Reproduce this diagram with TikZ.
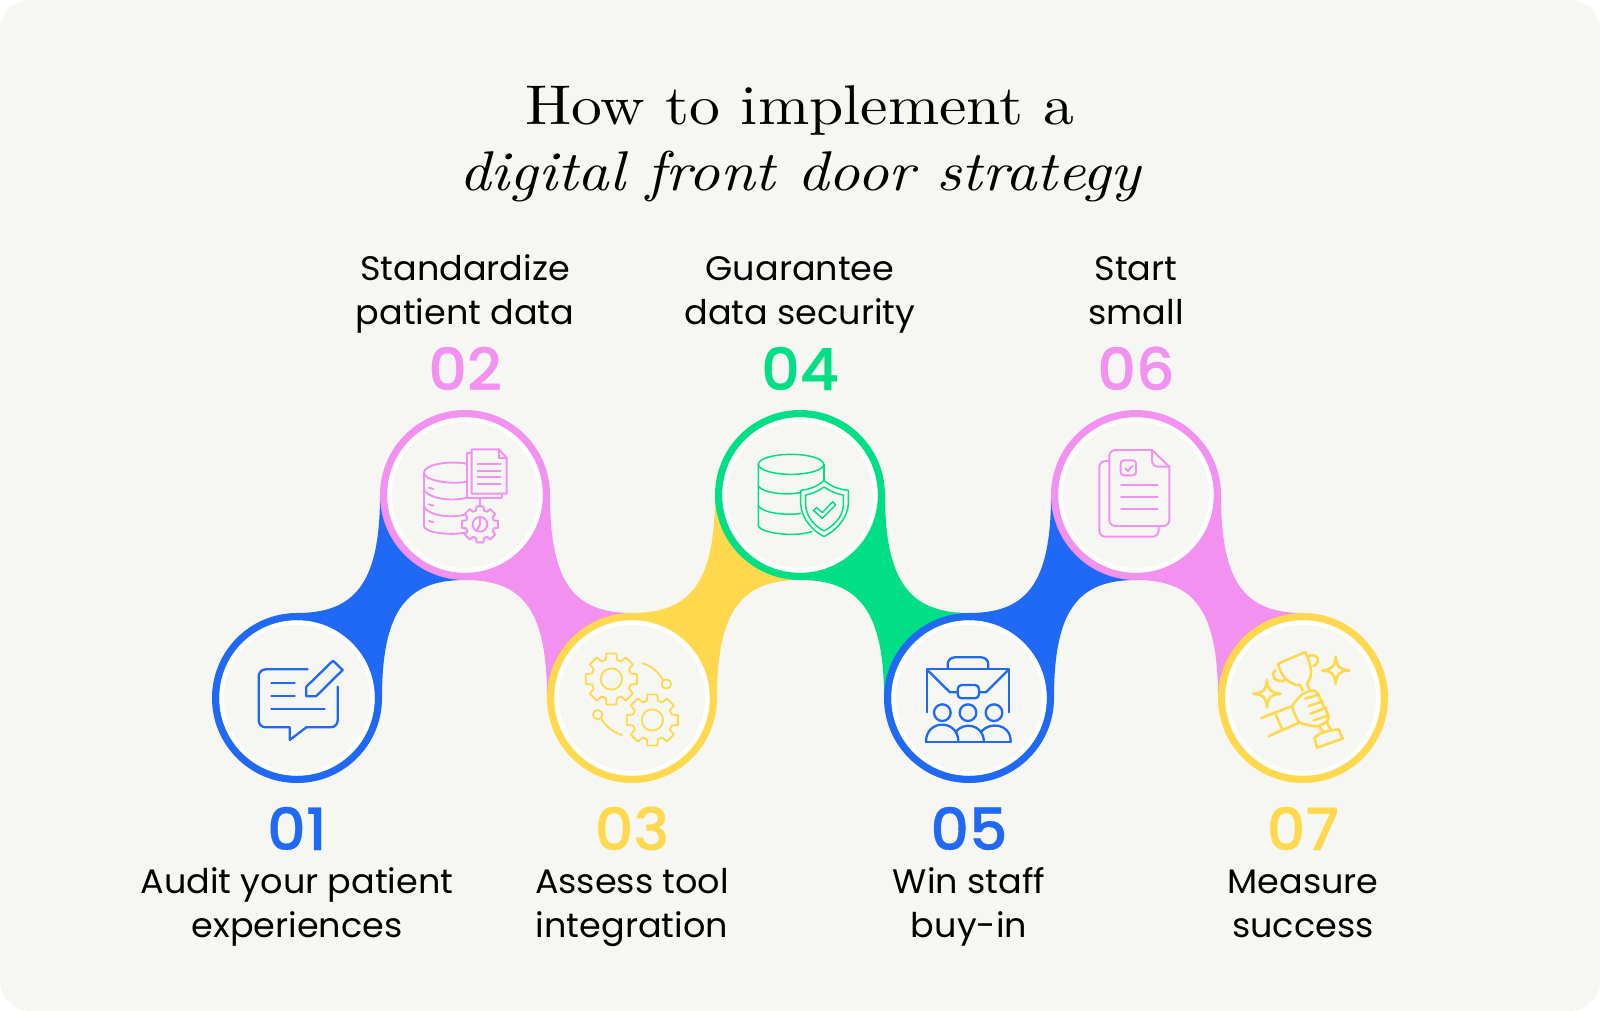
\documentclass[tikz,border=0pt]{standalone}
\usepackage{fontspec}
\usetikzlibrary{backgrounds}
\newfontfamily\labelfont[FakeStretch=1.03]{Poppins}
\newfontfamily\numfont[FakeStretch=1.04,FakeBold=0.6]{Poppins Medium}
\newfontfamily\titlefont[FakeStretch=1.1]{lmroman10-regular.otf}
\newfontfamily\handfont[FakeStretch=1.1]{lmroman10-italic.otf}
\definecolor{paper}{HTML}{F6F7F3}
\definecolor{stepblue}{HTML}{1F69F5}
\definecolor{steppink}{HTML}{F291F0}
\definecolor{stepyellow}{HTML}{FFD84D}
\definecolor{stepgreen}{HTML}{00DF85}
\tikzset{
  disc/.style={circle,draw=#1,line width=7.5pt,fill=paper,minimum size=162.5pt,inner sep=0pt},
  steptext/.style={font=\labelfont\fontsize{34}{44}\selectfont,align=center,anchor=base},
  stepnum/.style={font=\numfont\fontsize{58}{60}\selectfont,text=#1,anchor=base},
  titletext/.style={anchor=base,text=black},
  icon/.style n args={4}{shift={(#1.center)},x=0.3333pt,y=-0.3333pt,shift={(-#2,-#3)},
    draw=#4,line width=2.3pt,line cap=round,line join=round}
}
% gear: centre x, y, root radius, tip radius, hub radius
\newcommand{\gearshape}[5]{
  \begin{scope}[shift={(#1,#2)}]
    \draw (-16:#3) \foreach \a in {0,45,...,315} {-- (\a-16:#3) -- (\a-11:#4) -- (\a+11:#4) -- (\a+16:#3)} -- cycle;
    \draw (0,0) circle (#5);
  \end{scope}
}
\begin{document}
\begin{tikzpicture}[x=1pt,y=-1pt]
  \path[use as bounding box] (0,0) rectangle (1600,1011);
  % the seven discs
  \foreach \n/\x/\y/\col in {1/297/698/stepblue,2/465/495/steppink,3/632/698/stepyellow,
      4/800/495/stepgreen,5/969/698/stepblue,6/1136/495/steppink,7/1303/698/stepyellow} {
    \node (s\n) at (\x,\y) [disc=\col] {};
    \draw[white,line width=4.5pt] (s\n.center) circle (75.5);
  }
  \begin{pgfonlayer}{background}
    \path[fill=paper,rounded corners=30pt] (0,0) rectangle (1600,1011);
    % links going up
    \foreach \a/\b/\col in {s1/s2/stepblue,s3/s4/stepyellow,s5/s6/stepblue} {
      \fill[\col] (\a.north) .. controls +(58,0) and +(0,88) .. (\b.west) -- (\b.south)
        .. controls +(-58,0) and +(0,-88) .. (\a.east) -- cycle;
    }
    % links going down
    \foreach \a/\b/\col in {s2/s3/steppink,s4/s5/stepgreen,s6/s7/steppink} {
      \fill[\col] (\b.north) .. controls +(-58,0) and +(0,88) .. (\a.east) -- (\a.south)
        .. controls +(58,0) and +(0,-88) .. (\b.west) -- cycle;
    }
  \end{pgfonlayer}
  % title
  \node (title1) at (800,125) [titletext,font=\titlefont\fontsize{56}{60}\selectfont] {How to implement a};
  \node (title2) at (800,190) [titletext,font=\handfont\fontsize{56}{60}\selectfont] {digital front door strategy};
  % numbers and labels
  \foreach \n/\x/\y/\col in {1/297/850/stepblue,3/632/850/stepyellow,5/969/850/stepblue,7/1303/850/stepyellow,
      2/465/390/steppink,4/800/390/stepgreen,6/1136/390/steppink} {
    \node (n\n) at (\x,\y) [stepnum=\col] {0\n};
  }
  \node (l1) at (297,937) [steptext] {Audit your patient\\experiences};
  \node (l2) at (465,324) [steptext] {Standardize\\patient data};
  \node (l3) at (632,937) [steptext] {Assess tool\\integration};
  \node (l4) at (800,324) [steptext] {Guarantee\\data security};
  \node (l5) at (969,937) [steptext] {Win staff\\buy-in};
  \node (l6) at (1136,324) [steptext] {Start\\small};
  \node (l7) at (1303,937) [steptext] {Measure\\success};
  % icon 1: note with pencil
  \begin{scope}[icon={s1}{290}{922}{stepblue}]
    \draw[rounded corners=7pt] (322,836) -- (175,836) -- (175,1010) -- (268,1010);
    \draw[rounded corners=7pt] (318,1010) -- (412,1010) -- (412,888);
    \draw (268,1010) -- (268,1048) -- (318,1010);
    \draw (213,876) -- (283,876) (213,915) -- (283,915) (213,955) -- (373,955);
    \draw (318,888) -- (398,810) -- (427,838) -- (347,917) -- (318,917) -- cycle;
  \end{scope}
  % icon 2: database, document and gear
  \begin{scope}[icon={s2}{795}{312}{steppink},line width=1.9pt]
    \draw (800,218) .. controls (740,208) and (672,222) .. (672,245) .. controls (672,268) and (750,282) .. (800,272);
    \draw (672,245) -- (672,405) .. controls (672,425) and (750,434) .. (795,425);
    \draw (672,295) .. controls (680,320) and (750,334) .. (800,320);
    \draw (672,345) .. controls (680,372) and (750,384) .. (797,370);
    \draw (687,290) -- (700,294) (687,340) -- (700,344) (687,390) -- (700,394);
    \draw (815,187) -- (800,187) -- (800,320) -- (905,320) -- (905,308);
    \draw (897,175) -- (815,175) -- (815,308) -- (920,308) -- (920,200) -- cycle;
    \draw (897,175) -- (897,200) -- (920,200);
    \foreach \y in {218,239,259,280} {\draw (833,\y) -- (902,\y);}
    \draw (840,320) -- (840,345);
    \gearshape{840}{400}{43}{55}{22}
    \draw (840,380) -- (840,400) -- (830,420);
  \end{scope}
  % icon 3: two gears
  \begin{scope}[icon={s3}{1297}{922}{stepyellow},line width=1.8pt]
    \gearshape{1235}{865}{60}{78}{32}
    \gearshape{1358}{988}{60}{78}{32}
    \draw (1328,818) .. controls (1355,826) and (1375,842) .. (1390,868);
    \draw (1400,880) circle (14);
    \draw (1205,985) .. controls (1220,1008) and (1240,1025) .. (1267,1033);
    \draw (1194,972) circle (14);
  \end{scope}
  % icon 4: database and shield
  \begin{scope}[icon={s4}{330}{312}{stepgreen},line width=1.5pt]
    \draw (303,220) ellipse (98 and 30);
    \draw (205,220) -- (205,405) .. controls (210,425) and (310,440) .. (365,422);
    \draw (402,220) -- (402,268);
    \draw (205,285) .. controls (215,305) and (290,315) .. (334,304);
    \draw (205,345) .. controls (215,365) and (290,375) .. (332,367);
    \draw (402,268) .. controls (385,285) and (360,295) .. (332,298) -- (332,340)
      .. controls (335,385) and (370,420) .. (402,437) .. controls (435,420) and (472,385) .. (475,340)
      -- (475,298) .. controls (445,295) and (420,285) .. (402,268);
    \draw (402,288) .. controls (385,300) and (368,308) .. (347,312) -- (347,345)
      .. controls (350,380) and (375,405) .. (402,420) .. controls (430,405) and (457,380) .. (460,345)
      -- (460,312) .. controls (437,308) and (420,300) .. (402,288);
    \draw (370,358) -- (380,350) -- (397,365) -- (428,332) -- (437,342) -- (397,382) -- cycle;
  \end{scope}
  % icon 5: briefcase and team
  \begin{scope}[icon={s5}{837}{922}{stepblue}]
    \draw[rounded corners=7pt] (773,833) -- (773,800) -- (895,800) -- (895,833);
    \draw (710,965) -- (710,835) -- (958,835) -- (958,965);
    \draw (712,838) -- (780,905) -- (803,905) (868,905) -- (888,905) -- (955,838);
    \draw[rounded corners=4pt] (803,883) rectangle (867,923);
    \foreach \x in {757,834,912} {\draw (\x,966) circle (25);}
    \draw (708,1053) -- (962,1053);
    \draw (708,1053) .. controls (708,985) and (805,985) .. (805,1053);
    \draw (797,1025) .. controls (815,995) and (878,995) .. (882,1053);
    \draw (875,1022) .. controls (895,995) and (962,995) .. (962,1053);
  \end{scope}
  % icon 6: documents
  \begin{scope}[icon={s6}{1337}{312}{steppink},line width=1.9pt]
    \draw[rounded corners=6pt] (1257,210) -- (1227,210) -- (1227,437) -- (1405,437) -- (1405,405);
    \draw[rounded corners=6pt] (1385,177) -- (1257,177) -- (1257,405) -- (1437,405) -- (1437,227);
    \draw (1437,227) -- (1385,177);
    \draw[rounded corners=6pt] (1385,177) -- (1385,227) -- (1437,227);
    \draw[rounded corners=3pt] (1291,208) rectangle (1337,253);
    \draw (1305,232) -- (1313,240) -- (1327,224);
    \foreach \y in {281,318,355} {\draw (1292,\y) -- (1402,\y);}
  \end{scope}
  % icon 7: trophy in hand
  \begin{scope}[icon={s7}{368}{318}{stepyellow},line width=2.6pt]
    \draw (293,215) -- (375,180) .. controls (385,205) and (405,245) .. (380,275) -- (387,292);
    \draw (293,215) .. controls (300,245) and (320,278) .. (360,280) -- (367,295);
    \draw (285,235) .. controls (268,250) and (285,275) .. (313,265);
    \draw (385,192) .. controls (410,180) and (425,210) .. (400,222);
    \draw[rounded corners=4pt] (405,292) -- (447,375) -- (440,390) -- (410,405) -- (355,393) -- (333,343) -- (365,305) -- cycle;
    \draw (375,320) -- (417,307) (385,342) -- (428,328) (390,365) -- (438,347) (400,385) -- (445,370);
    \draw (243,378) -- (333,343) (265,432) -- (355,393) (287,370) -- (307,415);
    \draw (417,405) -- (430,420) (440,390) -- (450,412);
    \draw (403,438) .. controls (415,420) and (450,415) .. (475,412) -- (487,440) -- (410,467) -- cycle;
    \foreach \cx/\cy in {466/235,260/305} {
      \draw (\cx,\cy-41) .. controls (\cx+3,\cy-10) and (\cx+10,\cy-3) .. (\cx+41,\cy)
        .. controls (\cx+10,\cy+3) and (\cx+3,\cy+10) .. (\cx,\cy+41)
        .. controls (\cx-3,\cy+10) and (\cx-10,\cy+3) .. (\cx-41,\cy)
        .. controls (\cx-10,\cy-3) and (\cx-3,\cy-10) .. cycle;
    }
  \end{scope}
\end{tikzpicture}
\end{document}
